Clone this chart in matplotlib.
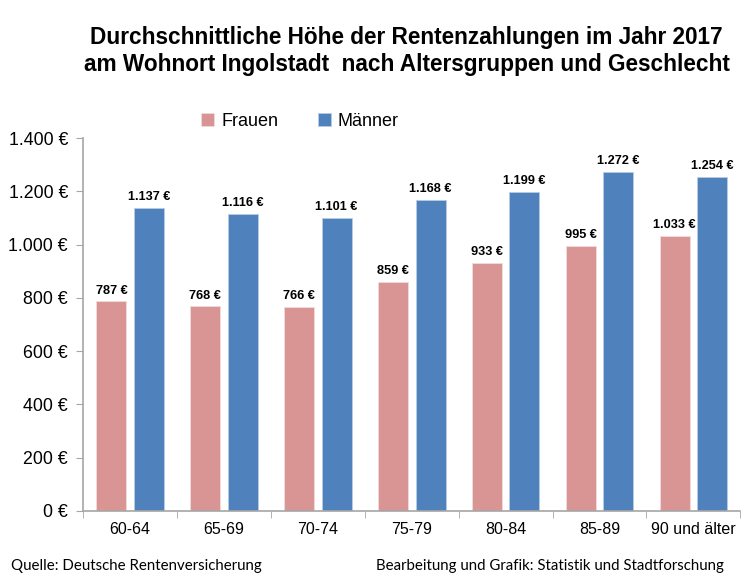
import matplotlib
matplotlib.use("Agg")
import matplotlib.pyplot as plt
import numpy as np

categories = ["60-64", "65-69", "70-74", "75-79", "80-84", "85-89", "90 und älter"]
frauen = [787, 768, 766, 859, 933, 995, 1033]
maenner = [1137, 1116, 1101, 1168, 1199, 1272, 1254]
yticks = [0, 200, 400, 600, 800, 1000, 1200, 1400]

def fmt(v):
    return f"{v:,}".replace(",", ".") + " €"

plt.rcParams['font.family'] = ['Liberation Sans', 'DejaVu Sans']

fig = plt.figure(figsize=(7.5, 5.78), dpi=100)
ax = fig.add_axes([0.111, 0.116, 0.876, 0.645])

x = np.arange(len(categories))
w = 0.32
c_f = "#D99594"
c_m = "#4F81BD"
bf = ax.bar(x - 0.2, frauen, w, color=c_f, edgecolor="#F2DCDB", linewidth=0.6, label="Frauen")
bm = ax.bar(x + 0.2, maenner, w, color=c_m, edgecolor="#B8CCE4", linewidth=0.6, label="Männer")

for xi, v in zip(x, frauen):
    ax.text(xi - 0.2, v + 18, fmt(v), ha="center", va="bottom", fontsize=9.2, fontweight="bold")
for xi, v in zip(x, maenner):
    ax.text(xi + 0.2, v + 18, fmt(v), ha="center", va="bottom", fontsize=9.2, fontweight="bold")

ax.set_xlim(-0.5, len(categories) - 0.5)
ax.set_ylim(0, 1400)
ax.set_yticks(yticks)
ax.set_yticklabels([fmt(v) for v in yticks], fontsize=12.8)
ax.set_xticks(x)
ax.set_xticklabels(categories, fontsize=11.5)
ax.set_xticks(np.arange(len(categories) + 1) - 0.5, minor=True)
ax.tick_params(axis="x", which="major", length=0, pad=8)
ax.tick_params(axis="x", which="minor", length=5, color="#A6A6A6")
ax.tick_params(axis="y", length=5, color="#A6A6A6", pad=6)

for s in ["top", "right"]:
    ax.spines[s].set_visible(False)
for s in ["left", "bottom"]:
    ax.spines[s].set_color("#A6A6A6")
    ax.spines[s].set_linewidth(1.2)

fig.text(0.542, 0.955, "Durchschnittliche Höhe der Rentenzahlungen im Jahr 2017\nam Wohnort Ingolstadt  nach Altersgruppen und Geschlecht",
         ha="center", va="top", fontsize=16.3, fontweight="bold", linespacing=1.2)

leg = fig.legend(handles=[bf, bm], loc="center", bbox_to_anchor=(0.40, 0.790), ncol=2, frameon=False,
                 fontsize=13, handlelength=0.7, handleheight=0.7, columnspacing=2.2, handletextpad=0.4)

fig.text(0.015, 0.008, "Quelle: Deutsche Rentenversicherung", fontsize=10.8, family=["Lato", "DejaVu Sans"], ha="left", va="bottom")
fig.text(0.965, 0.008, "Bearbeitung und Grafik: Statistik und Stadtforschung", fontsize=10.8, family=["Lato", "DejaVu Sans"], ha="right", va="bottom")

fig.savefig("out.png", dpi=100)
